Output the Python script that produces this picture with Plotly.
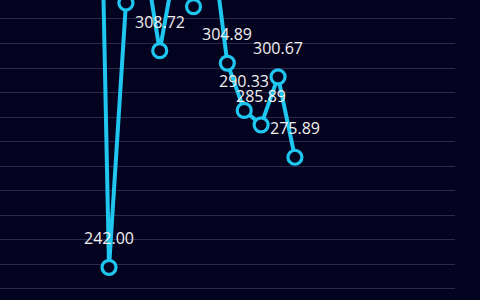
import plotly.graph_objects as go

# data (index positions along x, values on y)
x_idx = list(range(13))
values = [495.0, 242.00, 323.4, 341.0, 308.72, 337.5, 322.3, 346.0, 304.89, 290.33, 285.89, 300.67, 275.89]
labels = [f"{v:.2f}" for v in values]

BG = "#04031f"
LINE = "#1ec6f0"
GRID = "#2c2a4c"

Y_RANGE = [231.93, 324.33]
HEIGHT = 300
LABEL_SHIFT = 29

fig = go.Figure()
fig.add_trace(go.Scatter(
    x=x_idx, y=values, mode="lines+markers",
    line=dict(color=LINE, width=4),
    marker=dict(size=14, color=BG, line=dict(color=LINE, width=3.2)),
    cliponaxis=True, hoverinfo="skip",
))

px_per_unit = HEIGHT / (Y_RANGE[1] - Y_RANGE[0])
for xi, v, t in zip(x_idx, values, labels):
    label_center_px = (Y_RANGE[1] - v) * px_per_unit - LABEL_SHIFT
    if label_center_px < 0:
        continue  # label lies above the visible area
    fig.add_annotation(x=xi, y=v, text=t, showarrow=False,
                       xanchor="center", yanchor="middle", yshift=LABEL_SHIFT,
                       font=dict(family="Open Sans", size=16, color="#f0f0f0"))

fig.update_layout(
    width=480, height=HEIGHT,
    margin=dict(l=0, r=25, t=0, b=0),
    paper_bgcolor=BG, plot_bgcolor=BG,
    showlegend=False,
    xaxis=dict(range=[-5.45, 21.47], showgrid=False, zeroline=False,
               showticklabels=False, showline=False, ticks=""),
    yaxis=dict(range=Y_RANGE, tick0=318.48, dtick=7.56,
               tickmode="linear", showgrid=True, gridcolor=GRID, gridwidth=1,
               zeroline=False, showticklabels=False, showline=False, ticks=""),
)

fig.write_html("out.html")
